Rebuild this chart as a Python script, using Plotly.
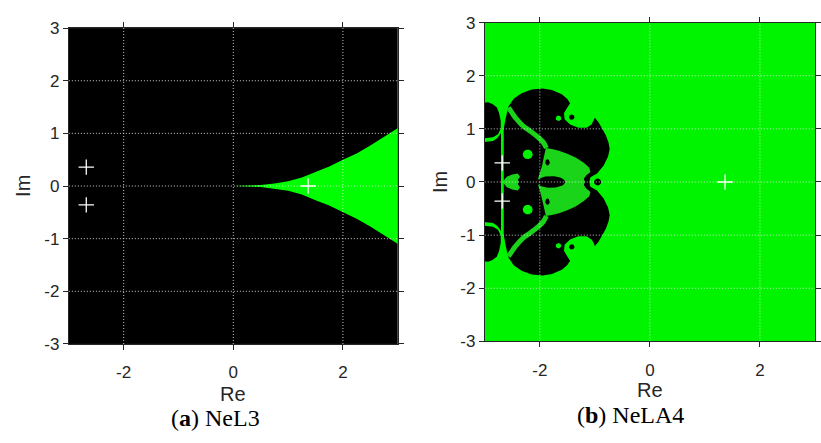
import numpy as np
import plotly.graph_objects as go

# Roots of f(z) = z^3 + 4z^2 - 10 (marked with +)
root_re = [1.3652, -2.6826, -2.6826]
root_im = [0.0, 0.3583, -0.3583]

axis_range = [-3, 3]
x_ticks = [-2, 0, 2]
x_labels = ["-2", "0", "2"]
y_ticks = [-3, -2, -1, 0, 1, 2, 3]
y_labels = ["-3", "-2", "-1", "0", "1", "2", "3"]
grid_x = [-2, 0, 2]
grid_y = [-2, -1, 0, 1, 2]

# (a) NeL3: upper edge of the convergence cusp (mirrored below the real axis)
cusp_re = [0.0, 0.25, 0.5, 0.75, 1.0, 1.25, 1.5, 1.75, 2.0, 2.25, 2.5, 2.75, 3.05]
cusp_im = [0.0, 0.008, 0.02, 0.05, 0.09, 0.16, 0.27, 0.37, 0.50, 0.62, 0.77, 0.93, 1.13]

# (b) NeLA4: non-convergent (black) regions, upper half-plane outlines
lobe_re = [-3.05, -2.94, -2.86, -2.78, -2.74, -2.71, -2.71, -2.76, -2.85, -3.05]
lobe_im = [1.49, 1.50, 1.47, 1.40, 1.30, 1.15, 1.0, 0.9, 0.84, 0.82]

edge_re = [-3.05, -2.85, -2.77, -2.705, -2.705, -3.05]
edge_im = [0.75, 0.77, 0.83, 0.92, 0.0, 0.0]

mid_re = [-2.655, -2.655, -2.62, -2.57, -2.47, -2.33, -2.15, -1.95, -1.78, -1.6,
          -1.5, -1.45, -1.5, -1.56, -1.55, -1.45, -1.3, -1.15, -1.06, -1.02,
          -1.0, -0.93, -0.86, -0.80, -0.75, -0.73, -0.76, -0.84, -0.96, -1.08,
          -1.10, -2.655]
mid_im = [0.0, 1.0, 1.2, 1.42, 1.57, 1.67, 1.74, 1.76, 1.73, 1.65,
          1.56, 1.48, 1.40, 1.30, 1.18, 1.08, 1.02, 1.02, 1.08, 1.15,
          1.21, 1.12, 1.0, 0.88, 0.74, 0.62, 0.48, 0.31, 0.16, 0.09,
          0.0, 0.0]

# (b) convergent (green) pockets inside the black set
core_re = [-2.05, -2.0, -1.96, -1.93, -1.89, -1.78, -1.65, -1.5, -1.35, -1.2,
           -1.1, -1.08, -1.16, -1.2, -1.18]
core_im = [0.0, 0.15, 0.3, 0.45, 0.64, 0.62, 0.59, 0.53, 0.46, 0.36,
           0.27, 0.19, 0.12, 0.06, 0.0]

band_re = [-2.57, -2.51, -2.45, -2.40, -2.31, -2.19, -2.04, -1.94, -1.88]
band_im = [1.40, 1.31, 1.22, 1.16, 1.06, 0.97, 0.85, 0.75, 0.64]

wedge_re = [-2.655, -2.6, -2.5, -2.4, -2.36, -2.4, -2.38]
wedge_im = [0.03, 0.1, 0.14, 0.16, 0.1, 0.04, 0.0]

# green disks inside the black set: centre re, centre im, radius
pocket_re = [-1.66, -2.22]
pocket_im = [1.20, 0.52]
pocket_r = [0.05, 0.09]

# small black islands: centre re, centre im, x radius, y radius
island_re = [-1.80, -0.95, -1.42, -1.86]
island_im = [0.0, 0.0, 1.22, 0.37]
island_rx = [0.26, 0.065, 0.05, 0.04]
island_ry = [0.11, 0.065, 0.05, 0.06]

GREEN_A = "#00ff00"
GREEN_B = "#00f400"
GREEN_IN = "#19d419"
BLACK = "#000000"
GRID = "rgba(240,240,240,0.85)"
AX = "#262626"


def mirror(re, im):
    """Close an upper-half outline that starts and ends on the real axis."""
    return list(re) + list(re[::-1]), list(im) + [-v for v in im[::-1]]


def ellipse(cx, cy, rx, ry, n=72):
    t = np.linspace(0, 2 * np.pi, n)
    return cx + rx * np.cos(t), cy + ry * np.sin(t)


def area(x, y, color, xa, ya):
    return go.Scatter(x=x, y=y, mode="lines", fill="toself", fillcolor=color,
                      line=dict(width=0, color=color), hoverinfo="skip",
                      xaxis=xa, yaxis=ya, showlegend=False)


traces = []

# ---- panel (a) ----
cx, cy = mirror(cusp_re, cusp_im)
traces.append(area(cx, cy, GREEN_A, "x", "y"))

# ---- panel (b) ----
traces.append(area([axis_range[0], axis_range[1], axis_range[1], axis_range[0]],
                   [axis_range[0], axis_range[0], axis_range[1], axis_range[1]],
                   GREEN_B, "x2", "y2"))
for sgn in (1, -1):
    traces.append(area(lobe_re, [sgn * v for v in lobe_im], BLACK, "x2", "y2"))
ex, ey = mirror(edge_re, edge_im)
traces.append(area(ex, ey, BLACK, "x2", "y2"))
mx, my = mirror(mid_re, mid_im)
traces.append(area(mx, my, BLACK, "x2", "y2"))

kx, ky = mirror(core_re, core_im)
traces.append(area(kx, ky, GREEN_IN, "x2", "y2"))
wx, wy = mirror(wedge_re, wedge_im)
traces.append(area(wx, wy, GREEN_IN, "x2", "y2"))
for sgn in (1, -1):
    traces.append(go.Scatter(x=band_re, y=[sgn * v for v in band_im], mode="lines",
                             line=dict(color=GREEN_IN, width=5, shape="spline"),
                             hoverinfo="skip", xaxis="x2", yaxis="y2", showlegend=False))
for pr, pi, r in zip(pocket_re, pocket_im, pocket_r):
    for sgn in (1, -1):
        px, py = ellipse(pr, sgn * pi, r, r)
        traces.append(area(px, py, GREEN_B, "x2", "y2"))
for ir, ii, rx, ry in zip(island_re, island_im, island_rx, island_ry):
    for sgn in ((1,) if ii == 0 else (1, -1)):
        px, py = ellipse(ir, sgn * ii, rx, ry)
        traces.append(area(px, py, BLACK, "x2", "y2"))

# dotted grid on top of both planes
for xa, ya in (("x", "y"), ("x2", "y2")):
    for g in grid_x:
        traces.append(go.Scatter(x=[g, g], y=axis_range, mode="lines",
                                 line=dict(color=GRID, width=1, dash="1px,2px"),
                                 hoverinfo="skip", xaxis=xa, yaxis=ya, showlegend=False))
    for g in grid_y:
        traces.append(go.Scatter(x=axis_range, y=[g, g], mode="lines",
                                 line=dict(color=GRID, width=1, dash="1px,2px"),
                                 hoverinfo="skip", xaxis=xa, yaxis=ya, showlegend=False))
    traces.append(go.Scatter(x=root_re, y=root_im, mode="markers",
                             marker=dict(symbol="cross-thin", size=11,
                                         line=dict(color="white", width=1.3)),
                             hoverinfo="skip", xaxis=xa, yaxis=ya, showlegend=False))

fig = go.Figure(traces)

tick_font = dict(family="Liberation Sans, Arial, sans-serif", size=17, color=AX)
common_x = dict(range=axis_range, tickvals=x_ticks, ticktext=x_labels, showgrid=False,
                zeroline=False, showline=True, linecolor=AX, linewidth=1, mirror="ticks",
                ticks="outside", ticklen=5, tickcolor=AX, tickfont=tick_font,
                ticklabelstandoff=8)
common_y = dict(range=axis_range, tickvals=y_ticks, ticktext=y_labels, showgrid=False,
                zeroline=False, showline=True, linecolor=AX, linewidth=1, mirror="ticks",
                ticks="outside", ticklen=5, tickcolor=AX, tickfont=tick_font)

fig.update_layout(
    width=821, height=443,
    margin=dict(l=0, r=0, t=0, b=0),
    paper_bgcolor="white", plot_bgcolor=BLACK,
    showlegend=False,
    xaxis=dict(domain=[0.0845, 0.488], anchor="y", **common_x),
    yaxis=dict(domain=[0.21, 0.955], anchor="x", **common_y),
    xaxis2=dict(domain=[0.5948, 1.0], anchor="y2", **common_x),
    yaxis2=dict(domain=[0.216, 0.968], anchor="x2", **common_y),
)

title_font = dict(family="Liberation Sans, Arial, sans-serif", size=20, color=AX)
cap_font = dict(family="Liberation Serif, Times New Roman, serif", size=24, color="black")
annotations = [
    dict(text="Re", x=235 / 821, y=1 - 402 / 443, font=title_font),
    dict(text="Im", x=23 / 821, y=1 - 185 / 443, font=title_font, textangle=-90),
    dict(text="Re", x=655 / 821, y=1 - 398 / 443, font=title_font),
    dict(text="Im", x=443 / 821, y=1 - 181 / 443, font=title_font, textangle=-90),
    dict(text="(<b>a</b>) NeL3", x=217 / 821, y=1 - 427 / 443, font=cap_font),
    dict(text="(<b>b</b>) NeLA4", x=635 / 821, y=1 - 424 / 443, font=cap_font),
]
for a in annotations:
    a.update(xref="paper", yref="paper", showarrow=False, xanchor="center", yanchor="middle")
fig.update_layout(annotations=annotations)

fig.write_html("out.html")
